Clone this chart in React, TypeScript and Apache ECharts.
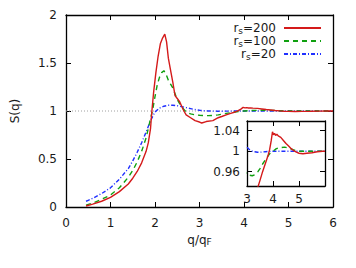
import React, { useEffect, useRef } from "react";
import * as echarts from "echarts";

// rs = 200
const qRed = [0.45, 0.6, 0.8, 1.0, 1.2, 1.4, 1.5, 1.6, 1.7, 1.8, 1.85, 1.9, 1.93, 1.97, 2.02, 2.07, 2.12, 2.17, 2.22, 2.26, 2.3, 2.34, 2.4, 2.45, 2.5, 2.55, 2.6, 2.65, 2.7, 2.8, 2.9, 3.0, 3.05, 3.15, 3.3, 3.42, 3.5, 3.6, 3.7, 3.8, 3.87, 3.93, 3.98, 4.02, 4.06, 4.1, 4.15, 4.2, 4.3, 4.4, 4.5, 4.6, 4.7, 4.8, 4.9, 5.0, 5.15, 5.3, 5.5, 5.7, 5.9, 6.0];
const sRed = [0.01, 0.03, 0.06, 0.1, 0.16, 0.24, 0.3, 0.37, 0.46, 0.58, 0.67, 0.82, 1.0, 1.2, 1.4, 1.57, 1.7, 1.76, 1.8, 1.72, 1.55, 1.45, 1.3, 1.16, 1.13, 1.1, 1.05, 1.0, 0.96, 0.93, 0.9, 0.885, 0.875, 0.89, 0.9, 0.93, 0.943, 0.96, 0.975, 0.99, 1.003, 1.02, 1.038, 1.032, 1.035, 1.031, 1.033, 1.03, 1.027, 1.021, 1.015, 1.01, 1.005, 1.001, 0.998, 0.996, 0.995, 0.996, 0.997, 0.999, 1.0, 1.0];

// rs = 100
const qGreen = [0.45, 0.6, 0.8, 1.0, 1.2, 1.4, 1.5, 1.6, 1.7, 1.8, 1.9, 1.95, 2.0, 2.05, 2.1, 2.15, 2.2, 2.25, 2.3, 2.35, 2.4, 2.45, 2.5, 2.55, 2.6, 2.7, 2.8, 2.9, 3.0, 3.1, 3.2, 3.3, 3.42, 3.5, 3.6, 3.68, 3.8, 3.87, 4.0, 4.13, 4.3, 4.45, 4.6, 4.77, 4.9, 5.0, 5.5, 6.0];
const sGreen = [0.02, 0.04, 0.08, 0.125, 0.2, 0.31, 0.38, 0.47, 0.58, 0.72, 0.92, 1.02, 1.15, 1.27, 1.35, 1.4, 1.42, 1.38, 1.32, 1.28, 1.24, 1.18, 1.12, 1.08, 1.04, 0.99, 0.97, 0.96, 0.955, 0.953, 0.952, 0.954, 0.96, 0.966, 0.975, 0.981, 0.99, 0.995, 1.0, 1.005, 1.007, 1.008, 1.006, 1.003, 1.001, 1.0, 1.0, 1.0];

// rs = 20
const qBlue = [0.45, 0.5, 0.6, 0.8, 1.0, 1.2, 1.4, 1.5, 1.6, 1.7, 1.8, 1.9, 2.0, 2.1, 2.2, 2.3, 2.4, 2.5, 2.6, 2.7, 2.8, 2.9, 3.0, 3.1, 3.2, 3.3, 3.4, 3.5, 3.7, 4.0, 5.0, 6.0];
const sBlue = [0.06, 0.07, 0.09, 0.14, 0.2, 0.29, 0.4, 0.48, 0.57, 0.67, 0.78, 0.9, 0.99, 1.03, 1.05, 1.06, 1.06, 1.055, 1.045, 1.035, 1.025, 1.015, 1.008, 1.003, 1.0, 0.999, 0.998, 0.998, 0.999, 1.0, 1.0, 1.0];

const seriesNames = ["rs=200", "rs=100", "rs=20"];
const refQ = [0, 6];
const refS = [1, 1];

const mainXTicks = [0, 6, 1];
const mainYTicks = [0, 2, 0.5];
const insetXRange = [3, 6];
const insetYRange = [0.932, 1.059];
const insetYLabels = [0.96, 1, 1.04];

const zip = (a: number[], b: number[]) => a.map((v, i) => [v, b[i]]);

const FONT = "DejaVu Sans";
const TXT = "#1a1a1a";

export default function App() {
  const ref = useRef<HTMLDivElement>(null);
  useEffect(() => {
    if (!ref.current) return;
    const chart = echarts.init(ref.current, null, { renderer: "svg" });
    const styles = [
      { color: "#d41a1a", type: "solid" as any },
      { color: "#10a010", type: [5, 4] as any },
      { color: "#2030ff", type: [4, 2, 1, 2] as any },
    ];
    const datas = [zip(qRed, sRed), zip(qGreen, sGreen), zip(qBlue, sBlue)];
    const lineSeries = (xi: number, yi: number) =>
      datas.map((d, i) => ({
        type: "line",
        name: seriesNames[i],
        xAxisIndex: xi,
        yAxisIndex: yi,
        data: d,
        symbol: "none",
        showSymbol: false,
        clip: true,
        lineStyle: { color: styles[i].color, width: 1.4, type: styles[i].type },
        itemStyle: { color: styles[i].color },
        z: 5 - i,
      }));
    const tickIn = (cv?: number[]) => ({
      show: true, inside: true, length: 5,
      lineStyle: { color: "#000", width: 1 },
      ...(cv ? { customValues: cv } : {}),
    });
    const line = () => ({ show: true, onZero: false, lineStyle: { color: "#000", width: 1.3 } });
    const richSub = () => ({
      r: { fontSize: 12, fontFamily: FONT, color: TXT, lineHeight: 14 },
      s: { fontSize: 9, fontFamily: FONT, color: TXT, lineHeight: 8, verticalAlign: "bottom" },
    });
    const sub = (t: string) => {
      const m = t.match(/^rs(.*)$/);
      return m ? `{r|r}{s|s}{r|${m[1]}}` : t;
    };
    chart.setOption({
      animation: false,
      textStyle: { fontFamily: FONT },
      grid: [
        { left: 66, top: 15, width: 267, height: 192 },
        { left: 247, top: 121, width: 78, height: 65 },
      ],
      legend: {
        data: seriesNames,
        orient: "vertical",
        align: "right",
        right: 29,
        top: 17,
        itemWidth: 37,
        itemHeight: 14,
        itemGap: 0,
        formatter: sub,
        itemStyle: { opacity: 0 },
        textStyle: {
          color: TXT,
          fontSize: 12,
          fontFamily: FONT,
          padding: [0, 3, 0, 0],
          rich: richSub(),
        },
      },
      xAxis: [
        {
          gridIndex: 0, type: "value", position: "bottom",
          min: mainXTicks[0], max: mainXTicks[1], interval: mainXTicks[2],
          axisLine: line(), axisTick: tickIn(), splitLine: { show: false },
          axisLabel: { color: TXT, fontSize: 12, margin: 10, fontFamily: FONT },
          name: "{r|q/q}{s|F}", nameLocation: "middle", nameGap: 12,
          nameTextStyle: { color: TXT, fontSize: 12, fontFamily: FONT, rich: richSub() },
        },
        {
          gridIndex: 0, type: "value", position: "top",
          min: mainXTicks[0], max: mainXTicks[1], interval: mainXTicks[2],
          axisLine: line(), axisTick: tickIn(), splitLine: { show: false }, axisLabel: { show: false },
        },
        {
          gridIndex: 1, type: "value", position: "bottom",
          min: insetXRange[0], max: insetXRange[1], interval: 1,
          axisLine: line(), axisTick: tickIn(), splitLine: { show: false },
          axisLabel: {
            color: TXT, fontSize: 12, margin: 7, fontFamily: FONT,
            formatter: (v: number) => (v >= insetXRange[1] ? "" : String(v)),
          },
        },
        {
          gridIndex: 1, type: "value", position: "top",
          min: insetXRange[0], max: insetXRange[1], interval: 1,
          axisLine: line(), axisTick: tickIn(), splitLine: { show: false }, axisLabel: { show: false },
        },
      ],
      yAxis: [
        {
          gridIndex: 0, type: "value", position: "left",
          min: mainYTicks[0], max: mainYTicks[1], interval: mainYTicks[2],
          axisLine: line(), axisTick: tickIn(), splitLine: { show: false },
          axisLabel: { color: TXT, fontSize: 12, margin: 9, fontFamily: FONT },
          name: "S(q)", nameLocation: "middle", nameGap: 45,
          nameTextStyle: { color: TXT, fontSize: 12, fontFamily: FONT },
        },
        {
          gridIndex: 0, type: "value", position: "right",
          min: mainYTicks[0], max: mainYTicks[1], interval: mainYTicks[2],
          axisLine: line(), axisTick: tickIn(), splitLine: { show: false }, axisLabel: { show: false },
        },
        {
          gridIndex: 1, type: "value", position: "left",
          min: insetYRange[0], max: insetYRange[1],
          axisLine: line(), axisTick: tickIn(insetYLabels), splitLine: { show: false },
          axisLabel: { color: TXT, fontSize: 12, margin: 7, fontFamily: FONT, customValues: insetYLabels },
        },
        {
          gridIndex: 1, type: "value", position: "right",
          min: insetYRange[0], max: insetYRange[1],
          axisLine: line(), axisTick: tickIn(insetYLabels), splitLine: { show: false }, axisLabel: { show: false },
        },
      ],
      series: [
        {
          type: "line", name: "ref", xAxisIndex: 0, yAxisIndex: 0,
          data: zip(refQ, refS), symbol: "none",
          lineStyle: { color: "#a0a0a0", width: 1, type: [1, 2] },
          z: 1,
        },
        ...lineSeries(0, 0),
        ...lineSeries(2, 2),
      ],
    });
    return () => chart.dispose();
  }, []);
  return <div ref={ref} style={{ position: "absolute", left: 0, top: 0, width: 356, height: 268 }} />;
}
